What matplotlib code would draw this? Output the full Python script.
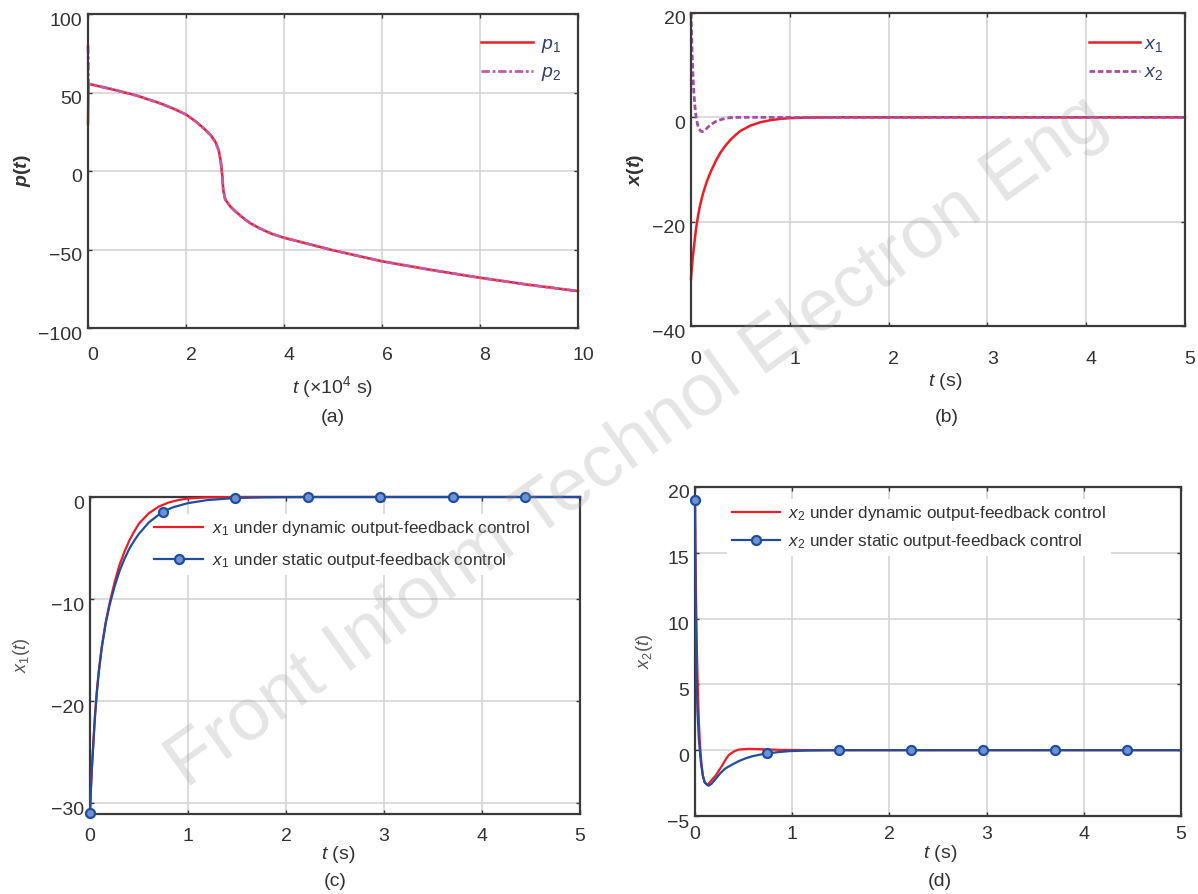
import matplotlib
matplotlib.use("Agg")
import matplotlib.pyplot as plt
import matplotlib.transforms as mtrans

plt.rcParams['font.family'] = ['Liberation Sans', 'DejaVu Sans']
plt.rcParams['mathtext.fontset'] = 'custom'
plt.rcParams['mathtext.rm'] = 'Liberation Sans'
plt.rcParams['mathtext.it'] = 'Liberation Sans:italic'
plt.rcParams['mathtext.bf'] = 'Liberation Sans:italic:bold'

# ---------------- data ----------------
# (a) p(t), t in 1e4 s
t_a = [0, 0.01, 0.5, 1.0, 1.5, 1.75, 2.0, 2.2, 2.35, 2.5, 2.6, 2.67, 2.71, 2.74, 2.76,
       2.8, 2.9, 3.0, 3.15, 3.3, 3.5, 3.75, 4.0, 4.5, 5.0, 5.5, 6.0, 7.0, 8.0, 9.0, 10.0]
p_common = [55.5, 52, 48, 42.8, 39.6, 36, 31.5, 27.5, 23, 18.5, 13, 6, -3, -12,
            -18, -22.5, -25.5, -29.5, -33, -36.5, -40, -42.5, -46.5, -50.5, -54, -57.5,
            -63, -68, -72.5, -76.5]
p1 = [30] + p_common
p2 = [80] + p_common

# (b) x(t), dynamic output feedback
t_b1 = [0, 0.01, 0.02, 0.035, 0.05, 0.07, 0.09, 0.12, 0.16, 0.2, 0.25, 0.3, 0.35, 0.4,
        0.45, 0.5, 0.6, 0.7, 0.8, 0.9, 1.0, 1.2, 1.5, 5.0]
x1_dyn = [-31, -28.5, -26.5, -24, -21.5, -19, -17, -14.7, -12.3, -10.4, -8.4, -6.7, -5.4,
          -4.3, -3.4, -2.6, -1.6, -0.95, -0.55, -0.3, -0.15, -0.04, 0, 0]
t_b2 = [0, 0.01, 0.02, 0.03, 0.04, 0.05, 0.065, 0.08, 0.1, 0.115, 0.14, 0.17, 0.2, 0.25,
        0.3, 0.35, 0.4, 0.5, 5.0]
x2_b = [20, 13, 8, 4.5, 2, 0.3, -1.3, -2.2, -2.65, -2.75, -2.5, -1.9, -1.4, -0.8, -0.45,
        -0.2, -0.05, 0, 0]

# (c) x1 under static output feedback
t_c = [0, 0.01, 0.02, 0.035, 0.05, 0.07, 0.09, 0.12, 0.16, 0.2, 0.25, 0.3, 0.35, 0.4,
       0.45, 0.5, 0.6, 0.74, 0.85, 1.0, 1.2, 1.48, 1.8, 2.22, 2.96, 3.70, 4.44, 5.0]
x1_sta = [-31, -28.5, -26.5, -24, -21.7, -19.2, -17.2, -14.8, -12.4, -10.6, -8.8, -7.3,
          -6.1, -5.1, -4.3, -3.6, -2.5, -1.45, -1.0, -0.6, -0.3, -0.1, -0.03, 0, 0, 0, 0, 0]
mark_times = [0, 0.74, 1.48, 2.22, 2.96, 3.70, 4.44]

# (d) x2
t_d1 = [0, 0.005, 0.01, 0.02, 0.03, 0.04, 0.05, 0.065, 0.08, 0.1, 0.127, 0.15, 0.18,
        0.21, 0.25, 0.28, 0.32, 0.35, 0.4, 0.45, 0.55, 0.7, 0.9, 1.2, 5.0]
x2_dyn = [19, 15, 12, 7.5, 4.5, 2.2, 0.6, -0.9, -1.9, -2.45, -2.66, -2.45, -2.2, -1.95,
          -1.5, -1.15, -0.65, -0.35, -0.1, 0.05, 0.1, 0.07, 0.02, 0, 0]
t_d2 = [0, 0.004, 0.008, 0.015, 0.025, 0.04, 0.06, 0.08, 0.1, 0.14, 0.17, 0.21, 0.26,
        0.31, 0.38, 0.45, 0.52, 0.59, 0.66, 0.74, 0.85, 0.97, 1.2, 1.48, 2.22, 2.96,
        3.70, 4.44, 5.0]
x2_sta = [19, 14, 10, 6, 3, 0.8, -0.9, -1.9, -2.45, -2.7, -2.55, -2.2, -1.75, -1.4, -1.1,
          -0.83, -0.62, -0.46, -0.35, -0.25, -0.15, -0.07, -0.02, 0, 0, 0, 0, 0, 0]

# ---------------- style ----------------
RED = '#ee1c25'
BLUE = '#1f4e9f'
MAG = '#c25aa8'
PURP = '#a64ca6'
SPINE = '#3a3a3a'
GRID = '#d2d2d2'
TXT = '#333333'
FS = 14
LFS = 12.3

W, H = 1198, 894
fig = plt.figure(figsize=(W / 100, H / 100), dpi=100)


def add_ax(l, r, t, b):
    return fig.add_axes([l / W, 1 - b / H, (r - l) / W, (b - t) / H])


axA = add_ax(88, 578, 14, 328)
axB = add_ax(691, 1185, 13, 326)
axC = add_ax(90, 580, 497, 814)
axD = add_ax(695, 1181, 487, 816)


def style(ax, xt, yt, xlim, ylim, xpad, dx, dy):
    ax.set_xlim(*xlim)
    ax.set_ylim(*ylim)
    ax.set_xticks(xt)
    ax.set_yticks(yt)
    ax.set_axisbelow(True)
    ax.grid(True, color=GRID, lw=1.1)
    for s in ax.spines.values():
        s.set_color(SPINE)
        s.set_linewidth(1.6)
    ax.tick_params(direction='in', length=3, width=1, color=SPINE, top=True, right=True,
                   labelsize=FS, labelcolor=TXT)
    ax.tick_params(axis='x', pad=xpad)
    ax.tick_params(axis='y', pad=4)
    offx = mtrans.ScaledTranslation(dx / 100, 0, fig.dpi_scale_trans)
    offy = mtrans.ScaledTranslation(0, -dy / 100, fig.dpi_scale_trans)
    for lab in ax.get_xticklabels():
        lab.set_transform(lab.get_transform() + offx)
    for lab in ax.get_yticklabels():
        lab.set_transform(lab.get_transform() + offy)


# (a)
axA.plot(t_a, p1, color=RED, lw=1.8, clip_on=False, label=r'$p_1$')
axA.plot(t_a, p2, color=MAG, lw=2.0, ls=(0, (3, 1, 1, 1)), clip_on=False, label=r'$p_2$')
style(axA, [0, 2, 4, 6, 8, 10], [-100, -50, 0, 50, 100], (0, 10), (-100, 100), 14, 5, 5)
legA = axA.legend(loc='upper left', bbox_to_anchor=(0.802, 0.9315), frameon=False,
                  fontsize=FS, borderpad=0, borderaxespad=0, handlelength=2.7,
                  handletextpad=0.39, labelspacing=0.45)
for tx in legA.get_texts():
    tx.set_color('#2f3f6f')
axA.set_xlabel(r'$t$ (×10$^4$ s)', fontsize=FS, color=TXT)
axA.xaxis.set_label_coords(0.5, -0.146)
axA.set_ylabel(r'$\mathbf{p}$($\mathbf{t}$)', fontsize=FS, color=TXT, fontweight='bold')
axA.yaxis.set_label_coords(-0.112, 0.5)

# (b)
axB.plot(t_b1, x1_dyn, color=RED, lw=1.8, clip_on=False, label=r'$x_1$')
axB.plot(t_b2, x2_b, color=PURP, lw=2.0, ls=(0, (2, 1)), clip_on=False, label=r'$x_2$')
style(axB, [0, 1, 2, 3, 4, 5], [-40, -20, 0, 20], (0, 5), (-40, 20), 18, 5, 5)
legB = axB.legend(loc='upper left', bbox_to_anchor=(0.806, 0.928), frameon=False,
                  fontsize=FS, borderpad=0, borderaxespad=0, handlelength=2.6,
                  handletextpad=0.2, labelspacing=0.5)
for tx in legB.get_texts():
    tx.set_color('#2f3f6f')
axB.set_xlabel(r'$t$ (s)', fontsize=FS, color=TXT)
axB.xaxis.set_label_coords(0.514, -0.144)
axB.set_ylabel(r'$\mathbf{x}$($\mathbf{t}$)', fontsize=FS, color=TXT, fontweight='bold')
axB.yaxis.set_label_coords(-0.091, 0.5)

# (c)
idx_c = [t_c.index(m) for m in mark_times]
axC.plot(t_b1, x1_dyn, color=RED, lw=1.6, clip_on=False, zorder=3,
         label=r'$x_1$ under dynamic output-feedback control')
axC.plot(t_c, x1_sta, color=BLUE, lw=1.6, marker='o', markevery=idx_c, ms=6.5,
         mfc='#6f93d2', mec=BLUE, mew=1.6, clip_on=False, zorder=4,
         label=r'$x_1$ under static output-feedback control')
style(axC, [0, 1, 2, 3, 4, 5], [-30, -20, -10, 0], (0, 5), (-31.1, 0), 10, 0, 6)
legC = axC.legend(loc='upper left', bbox_to_anchor=(0.12, 0.946), frameon=True,
                  facecolor='white', edgecolor='none', framealpha=1, fancybox=False,
                  borderpad=0.3, borderaxespad=0, handlelength=2.9,
                  handletextpad=0.5, labelspacing=0.75, fontsize=LFS)
legC.set_zorder(1)
for tx in legC.get_texts():
    tx.set_color(TXT)
axC.set_xlabel(r'$t$ (s)', fontsize=FS, color=TXT)
axC.xaxis.set_label_coords(0.506, -0.095)
axC.set_ylabel(r'$x_1$($t$)', fontsize=FS - 1, color='#555555')
axC.yaxis.set_label_coords(-0.118, 0.5)

# (d)
idx_d = [t_d2.index(m) for m in mark_times]
axD.plot(t_d1, x2_dyn, color=RED, lw=1.6, zorder=3,
         label=r'$x_2$ under dynamic output-feedback control')
axD.plot(t_d2, x2_sta, color=BLUE, lw=1.6, marker='o', markevery=idx_d, ms=6.5,
         mfc='#6f93d2', mec=BLUE, mew=1.6, clip_on=False, zorder=4,
         label=r'$x_2$ under static output-feedback control')
style(axD, [0, 1, 2, 3, 4, 5], [-5, 0, 5, 10, 15, 20], (0, 5), (-5, 20), 7, 0, 5)
legD = axD.legend(loc='upper left', bbox_to_anchor=(0.065, 0.963), frameon=True,
                  facecolor='white', edgecolor='none', framealpha=1, fancybox=False,
                  borderpad=0.3, borderaxespad=0, handlelength=2.8,
                  handletextpad=0.5, labelspacing=0.5, fontsize=LFS)
legD.set_zorder(1)
for tx in legD.get_texts():
    tx.set_color(TXT)
axD.set_xlabel(r'$t$ (s)', fontsize=FS, color=TXT)
axD.xaxis.set_label_coords(0.504, -0.082)
axD.set_ylabel(r'$x_2$($t$)', fontsize=FS - 1, color='#555555')
axD.yaxis.set_label_coords(-0.082, 0.5)

# panel captions
for (x, y, s) in [(333, 418, '(a)'), (947, 418, '(b)'), (335, 882, '(c)'), (940, 882, '(d)')]:
    fig.text(x / W, 1 - y / H, s, ha='center', va='center', fontsize=FS, color=TXT)

# watermark
fig.text(0.532, 0.505, 'Front Inform Technol Electron Eng', rotation=35.6, ha='center',
         va='center', fontsize=54, color='#9a9a9a', alpha=0.26, zorder=20)

fig.savefig('out.png', dpi=100)
